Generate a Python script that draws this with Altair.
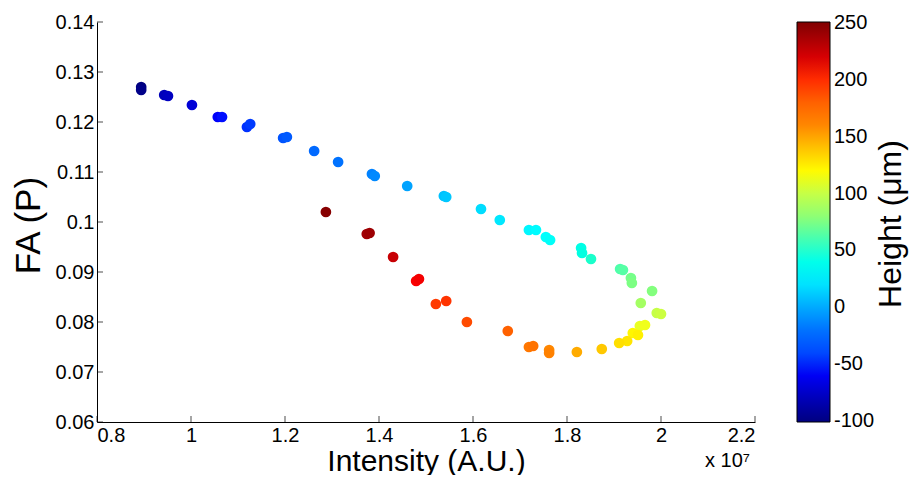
import altair as alt
import pandas as pd

# Intensity in units of 1e7 (A.U.)
intensity = [0.894, 0.894, 0.943, 0.951, 1.002, 1.057, 1.066, 1.119, 1.126, 1.196, 1.204,
             1.262, 1.313, 1.385, 1.391, 1.460, 1.538, 1.543, 1.617, 1.657, 1.719, 1.734,
             1.755, 1.764, 1.830, 1.832, 1.851, 1.913, 1.919, 1.936, 1.938, 1.981, 1.957,
             1.991, 2.000, 1.955, 1.966, 1.940, 1.951, 1.928, 1.911, 1.874, 1.821, 1.762,
             1.762, 1.719, 1.728, 1.674, 1.587, 1.521, 1.543, 1.479, 1.485, 1.430, 1.374,
             1.380, 1.287]
fa = [0.1270, 0.1264, 0.1254, 0.1252, 0.1234, 0.1210, 0.1210, 0.1190, 0.1196, 0.1168, 0.1170,
      0.1142, 0.1120, 0.1096, 0.1092, 0.1072, 0.1052, 0.1050, 0.1026, 0.1004, 0.0984, 0.0984,
      0.0970, 0.0964, 0.0948, 0.0938, 0.0926, 0.0906, 0.0904, 0.0888, 0.0878, 0.0862, 0.0838,
      0.0818, 0.0816, 0.0792, 0.0794, 0.0778, 0.0774, 0.0762, 0.0758, 0.0746, 0.0740, 0.0744,
      0.0738, 0.0750, 0.0752, 0.0782, 0.0800, 0.0836, 0.0842, 0.0882, 0.0886, 0.0930, 0.0976,
      0.0978, 0.1020]
height = [-100, -97, -80, -77, -70, -58, -55, -48, -45, -35, -32, -25, -20, -12, -10, -2, 8, 10,
          18, 22, 28, 30, 32, 34, 42, 44, 52, 62, 64, 72, 74, 76, 88, 100, 102, 112, 114, 122,
          124, 128, 130, 138, 148, 160, 162, 168, 170, 180, 190, 196, 198, 208, 210, 225, 238,
          240, 248]

x_ticks = [0.8, 1.0, 1.2, 1.4, 1.6, 1.8, 2.0, 2.2]
y_ticks = [0.06, 0.07, 0.08, 0.09, 0.10, 0.11, 0.12, 0.13, 0.14]
cbar_ticks = [-100, -50, 0, 50, 100, 150, 200, 250]

# jet colormap stops over the colour-bar range (-100 .. 250)
jet_colors = ["#000080", "#0000FF", "#0080FF", "#00FFFF", "#80FF80",
              "#FFFF00", "#FF8000", "#FF0000", "#800000"]
jet_domain = [-100.5, -56.25, -12.5, 31.25, 75.0, 118.75, 162.5, 206.25, 250.5]

df = pd.DataFrame({"intensity": intensity, "fa": fa, "height": height})
xt = pd.DataFrame({"intensity": x_ticks})
yt = pd.DataFrame({"fa": y_ticks})

FONT = "Liberation Sans"
W, H = 658, 400

xscale = alt.Scale(domain=[0.8, 2.2], nice=False, zero=False)
yscale = alt.Scale(domain=[0.06, 0.14], nice=False, zero=False)

points = alt.Chart(df).mark_circle(size=115, opacity=1).encode(
    x=alt.X("intensity:Q", scale=xscale,
            axis=alt.Axis(title="Intensity (A.U.)", values=x_ticks, format=".1~f",
                          ticks=False, labelPadding=3, titleFontSize=30,
                          titleBaseline="alphabetic", titleY=48, titleX=329)),
    y=alt.Y("fa:Q", scale=yscale,
            axis=alt.Axis(title="FA (P)", values=y_ticks, format=".2~f",
                          ticks=False, labelPadding=3, titleFontSize=35,
                          titleBaseline="alphabetic", titleX=-58, titleY=203)),
    color=alt.Color("height:Q",
                    scale=alt.Scale(domain=jet_domain, range=jet_colors),
                    legend=alt.Legend(title="",
                                      values=cbar_ticks, labelFontSize=20, labelFont=FONT,
                                      labelColor="black", labelOffset=4,
                                      labelExpr="'' + datum.value",
                                      gradientLength=400, gradientThickness=33,
                                      gradientStrokeColor="black", gradientStrokeWidth=1,
                                      direction="vertical", offset=42, padding=0)),
)

xticks = alt.Chart(xt).mark_tick(color="black", size=6, thickness=1).encode(
    x=alt.X("intensity:Q", scale=xscale), y=alt.value(H - 3))
yticks = alt.Chart(yt).mark_tick(color="black", size=6, thickness=1).encode(
    y=alt.Y("fa:Q", scale=yscale), x=alt.value(3))

exp_text = alt.Chart(pd.DataFrame({"t": ["x 10⁷"]})).mark_text(
    align="left", baseline="alphabetic", fontSize=20, font=FONT, color="black"
).encode(text="t:N", x=alt.value(608), y=alt.value(445))

cbar_title = alt.Chart(pd.DataFrame({"t": ["Height (μm)"]})).mark_text(
    align="center", baseline="alphabetic", fontSize=32, font=FONT, color="black", angle=270
).encode(text="t:N", x=alt.value(804), y=alt.value(202))

chart = alt.layer(points, xticks, yticks, exp_text, cbar_title).properties(
    width=W, height=H,
    autosize=alt.AutoSizeParams(type="none"),
    padding={"left": 89, "top": 14, "right": 156, "bottom": 53},
).configure(background="white").configure_view(stroke=None).configure_axis(
    domainColor="black", domainWidth=1, grid=False,
    labelFont=FONT, labelFontSize=20, labelColor="black",
    titleFont=FONT, titleFontWeight="normal", titleColor="black",
)

chart.save("out.html", embed_options={"renderer": "svg", "actions": False})
